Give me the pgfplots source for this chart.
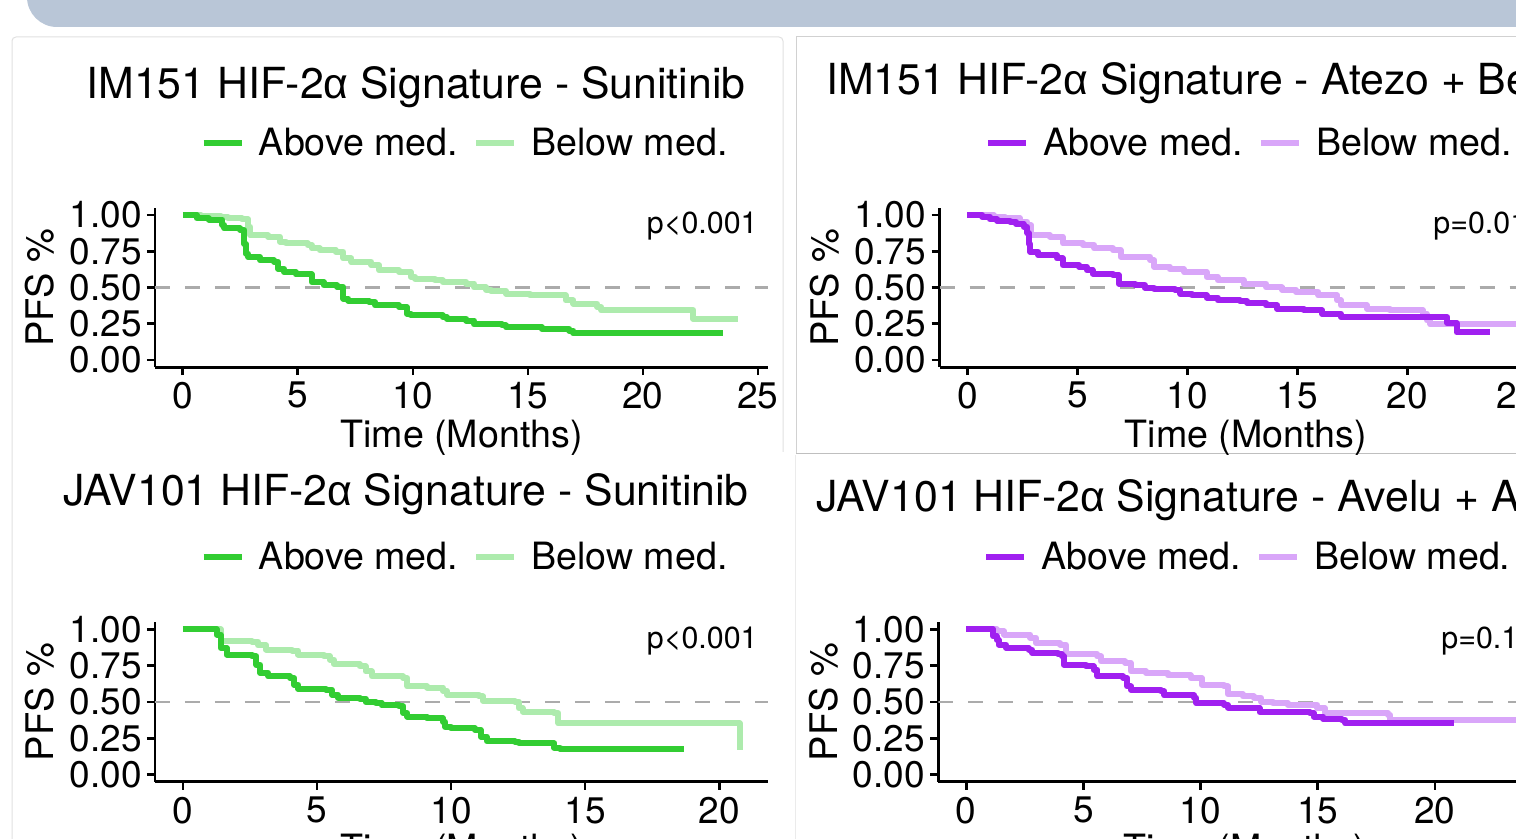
\documentclass[border=0pt]{standalone}
\usepackage{pgfplots}
\pgfplotsset{compat=1.18}
\usepackage{fontspec}
\setmainfont{TeX Gyre Heros}
\newfontfamily\alphafont{Liberation Sans}
\newcommand\al{{\alphafont α}}

\definecolor{dgreen}{HTML}{32CD32}
\definecolor{lgreen}{HTML}{ADEBAD}
\definecolor{dpurple}{HTML}{A020F0}
\definecolor{lpurple}{HTML}{D9A6F9}
\definecolor{band}{HTML}{B9C6D7}

\newcommand\ttlfont{\fontsize{21.4pt}{24pt}\selectfont}
\newcommand\legfont{\fontsize{18.8pt}{21pt}\selectfont}
\newcommand\pvfont{\fontsize{15.2pt}{16pt}\selectfont}

\pgfplotsset{
  km/.style={
    scale only axis, width=306.5pt, height=79.75pt,
    ymin=-0.05, ymax=1.05,
    axis lines=left,
    axis line style={-, line width=1.35pt, black},
    x axis line style={-}, y axis line style={-},
    tick align=outside, major tick length=4pt,
    major tick style={line width=1.35pt, black},
    ytick={0,0.25,0.5,0.75,1}, yticklabels={0.00,0.25,0.50,0.75,1.00},
    tick label style={font=\fontsize{18.5pt}{19pt}\selectfont},
    yticklabel style={inner sep=2.5pt},
    xlabel={Time (Months)}, ylabel={PFS \%},
    xlabel style={at={(axis description cs:0.5,-0.5)}, anchor=base, inner sep=0pt,
      font=\fontsize{18.8pt}{20pt}\selectfont},
    ylabel style={at={(axis description cs:-0.1876,0.5)}, anchor=center, inner sep=0pt,
      font=\fontsize{19pt}{20pt}\selectfont},
    legend columns=2,
    legend image code/.code={\draw[#1, line width=3.2pt, line cap=butt] (0pt,0pt) -- (19pt,0pt);},
    legend style={draw=none, fill=none, inner sep=0pt, anchor=west, font=\legfont,
      nodes={inner sep=0pt}, cells={anchor=west},
      /tikz/every odd column/.append style={column sep=7pt},
      /tikz/every even column/.append style={column sep=7.5pt}},
  },
  curve/.style={const plot, line width=3pt, line join=round, mark=none},
  medline/.style={line width=1.4pt, color=black!33, dash pattern=on 7.5pt off 7.5pt, forget plot},
}

\begin{document}
\begin{tikzpicture}
\path[use as bounding box] (0,0) rectangle (758pt,-419.5pt);
\clip (0,0) rectangle (758pt,-419.5pt);

% screenshot frame: top band and panel cards
\begin{scope}[x=0.5pt,y=-0.5pt]
  \fill[band, rounded corners=15pt] (27,-60) rectangle (1560,27);
  \draw[black!12, line width=0.5pt] (12,900) -- (12,40) [rounded corners=2pt] -- (12,37) -- (783,37) -- (783,452);
  \draw[black!18, line width=0.5pt] (796,454) -- (796,37) -- (1560,37);
  \draw[black!25, line width=0.5pt] (796,454) -- (1560,454);
  \draw[black!8, line width=0.5pt] (795,455) -- (795,900);
\end{scope}

% ---------- IM151 Sunitinib ----------
\begin{axis}[km, at={(77.5pt,-183.625pt)}, anchor=south west,
  xmin=-1.21, xmax=25.44,
  xtick={0,5,10,15,20,25}, xticklabels={0,5,10,15,20,25},
  legend style={at={(axis description cs:0.0734,1.406)}}]
\addlegendimage{dgreen}\addlegendentry{Above med.}
\addlegendimage{lgreen}\addlegendentry{Below med.}
\addplot[medline] coordinates {(-1.21,0.5) (25.44,0.5)};
\addplot[curve, lgreen, forget plot] coordinates {
 (0,1) (0.78,0.995) (1.12,0.993) (1.64,0.984) (1.98,0.977) (2.59,0.97) (2.84,0.919)
 (2.93,0.861) (3.71,0.85) (4.22,0.815) (4.48,0.804) (5.43,0.792) (5.6,0.769) (5.95,0.757)
 (6.64,0.746) (6.98,0.70) (7.33,0.677) (8.19,0.654) (8.53,0.619) (9.4,0.607) (9.91,0.573)
 (10.1,0.561) (10.95,0.55) (11.29,0.538) (12.33,0.527) (12.67,0.50) (13.19,0.485)
 (13.4,0.476) (14.05,0.457) (15.09,0.446) (16.64,0.411) (16.98,0.388) (18.02,0.365)
 (18.19,0.343) (22.2,0.282) (24.13,0.282)};
\addplot[curve, dgreen, forget plot] coordinates {
 (0,1) (0.6,0.977) (1.12,0.968) (1.72,0.93) (1.81,0.907) (2.5,0.896) (2.67,0.80)
 (2.75,0.734) (2.84,0.71) (3.36,0.688) (3.97,0.677) (4.14,0.63) (4.4,0.607) (4.91,0.59)
 (5.6,0.538) (6.12,0.515) (6.72,0.503) (6.98,0.423) (7.2,0.41) (8.1,0.40) (8.36,0.376)
 (9.4,0.365) (9.74,0.319) (9.9,0.307) (11.29,0.296) (11.47,0.284) (12.33,0.272)
 (12.67,0.245) (13.88,0.238) (14.05,0.226) (15.6,0.215) (16.81,0.203) (16.98,0.185)
 (23.47,0.185)};
\end{axis}

% ---------- IM151 Atezo + Bev ----------
\begin{axis}[km, at={(469.75pt,-183.625pt)}, anchor=south west,
  xmin=-1.27, xmax=26.6,
  xtick={0,5,10,15,20,25}, xticklabels={0,5,10,15,20,25},
  legend style={at={(axis description cs:0.0734,1.406)}}]
\addlegendimage{dpurple}\addlegendentry{Above med.}
\addlegendimage{lpurple}\addlegendentry{Below med.}
\addplot[medline] coordinates {(-1.27,0.5) (26.6,0.5)};
\addplot[curve, lpurple, forget plot] coordinates {
 (0,1) (1.19,0.988) (1.7,0.977) (2.38,0.954) (2.72,0.93) (2.89,0.861) (3.74,0.85)
 (4.33,0.804) (5.26,0.792) (5.77,0.769) (6.62,0.757) (6.96,0.711) (8.32,0.688)
 (8.49,0.642) (9.2,0.625) (9.85,0.607) (10.87,0.573) (11.38,0.55) (12.56,0.527)
 (13.58,0.50) (14.3,0.485) (14.94,0.469) (15.96,0.446) (16.81,0.411) (16.98,0.376)
 (18.17,0.353) (19.19,0.342) (20.71,0.319) (20.88,0.273) (21.05,0.245) (25.33,0.245)};
\addplot[curve, dpurple, forget plot] coordinates {
 (0,1) (0.68,0.988) (1.02,0.97) (1.36,0.96) (1.95,0.954) (2.21,0.938) (2.55,0.919)
 (2.72,0.873) (2.8,0.80) (2.85,0.746) (3.23,0.723) (4.07,0.70) (4.33,0.654) (5.09,0.642)
 (5.43,0.619) (5.69,0.596) (6.62,0.584) (6.88,0.527) (7.64,0.515) (8.06,0.499)
 (8.49,0.492) (9.42,0.485) (9.68,0.457) (10.19,0.446) (10.87,0.43) (11.38,0.411)
 (12.39,0.406) (12.73,0.393) (13.58,0.376) (14.09,0.353) (15.28,0.342) (16.13,0.319)
 (16.98,0.296) (21.82,0.254) (22.24,0.19) (23.77,0.19)};
\end{axis}

% ---------- JAV101 Sunitinib ----------
\begin{axis}[km, at={(77.5pt,-390.875pt)}, anchor=south west,
  xmin=-1.04, xmax=21.82,
  xtick={0,5,10,15,20}, xticklabels={0,5,10,15,20},
  legend style={at={(axis description cs:0.0734,1.409)}}]
\addlegendimage{dgreen}\addlegendentry{Above med.}
\addlegendimage{lgreen}\addlegendentry{Below med.}
\addplot[medline] coordinates {(-1.04,0.5) (21.82,0.5)};
\addplot[curve, lgreen, forget plot] coordinates {
 (0,1) (1.41,0.919) (2.59,0.915) (2.81,0.89) (3.11,0.861) (4.07,0.855) (4.3,0.827)
 (5.26,0.815) (5.48,0.792) (5.63,0.762) (6.59,0.746) (6.81,0.711) (7.04,0.677)
 (8.22,0.665) (8.37,0.607) (9.11,0.60) (9.7,0.577) (9.85,0.55) (11.04,0.538)
 (11.19,0.508) (12.37,0.503) (12.52,0.457) (12.67,0.434) (13.85,0.423) (14.0,0.353)
 (20.76,0.353) (20.76,0.169)};
\addplot[curve, dgreen, forget plot] coordinates {
 (0,1) (1.26,0.965) (1.41,0.873) (1.63,0.827) (2.59,0.815) (2.74,0.757) (2.89,0.70)
 (3.19,0.677) (4.0,0.665) (4.15,0.619) (4.3,0.59) (5.33,0.584) (5.56,0.55) (5.78,0.531)
 (6.59,0.522) (6.81,0.50) (7.19,0.492) (7.41,0.476) (8.07,0.469) (8.22,0.423) (8.37,0.40)
 (9.11,0.388) (9.7,0.365) (9.78,0.33) (10.0,0.319) (10.89,0.307) (11.11,0.261)
 (11.33,0.231) (12.37,0.226) (12.52,0.215) (13.85,0.185) (14.07,0.176) (18.67,0.176)};
\end{axis}

% ---------- JAV101 Avelu + Axi ----------
\begin{axis}[km, at={(469.15pt,-390.875pt)}, anchor=south west,
  xmin=-1.19, xmax=24.97,
  xtick={0,5,10,15,20}, xticklabels={0,5,10,15,20},
  legend style={at={(axis description cs:0.0727,1.409)}}]
\addlegendimage{dpurple}\addlegendentry{Above med.}
\addlegendimage{lpurple}\addlegendentry{Below med.}
\addplot[medline] coordinates {(-1.19,0.5) (24.97,0.5)};
\addplot[curve, lpurple, forget plot] coordinates {
 (0,1) (1.3,0.988) (1.62,0.965) (2.74,0.942) (2.98,0.907) (4.01,0.896) (4.25,0.831)
 (5.6,0.815) (5.76,0.78) (6.79,0.769) (7.03,0.711) (7.67,0.70) (8.62,0.684) (9.58,0.665)
 (10.06,0.619) (11.01,0.607) (11.17,0.554) (11.81,0.538) (12.28,0.527) (12.6,0.503)
 (13.08,0.492) (13.72,0.48) (14.99,0.457) (15.31,0.423) (18.01,0.411) (18.09,0.376)
 (23.78,0.376)};
\addplot[curve, dpurple, forget plot] coordinates {
 (0,1) (1.15,0.954) (1.3,0.93) (1.38,0.896) (1.7,0.873) (2.66,0.861) (2.82,0.838)
 (3.93,0.83) (4.09,0.815) (4.17,0.757) (5.12,0.746) (5.44,0.723) (5.6,0.677) (6.71,0.665)
 (6.87,0.607) (7.03,0.584) (8.31,0.573) (8.46,0.545) (9.74,0.531) (9.82,0.492) (11.0,0.48)
 (11.17,0.462) (12.36,0.457) (12.52,0.43) (14.67,0.423) (14.83,0.40) (15.23,0.383)
 (16.02,0.376) (16.18,0.353) (20.8,0.353)};
\end{axis}

% titles and p-values
\begin{scope}[x=0.5pt,y=-0.5pt, every node/.style={inner sep=0pt}]
  \node[anchor=base, font=\ttlfont] at (416,99) {IM151 HIF-2\al{} Signature - Sunitinib};
  \node[anchor=base west, font=\ttlfont] at (826,95) {IM151 HIF-2\al{} Signature - Atezo + Bev};
  \node[anchor=base, font=\ttlfont] at (406,506) {JAV101 HIF-2\al{} Signature - Sunitinib};
  \node[anchor=base west, font=\ttlfont] at (816,512) {JAV101 HIF-2\al{} Signature - Avelu + Axi};
  \node[anchor=base east, font=\pvfont] at (758,233.5) {p<0.001};
  \node[anchor=base west, font=\pvfont] at (1433,233.5) {p=0.01};
  \node[anchor=base east, font=\pvfont] at (758,648) {p<0.001};
  \node[anchor=base west, font=\pvfont] at (1441,648) {p=0.14};
\end{scope}
\end{tikzpicture}
\end{document}
